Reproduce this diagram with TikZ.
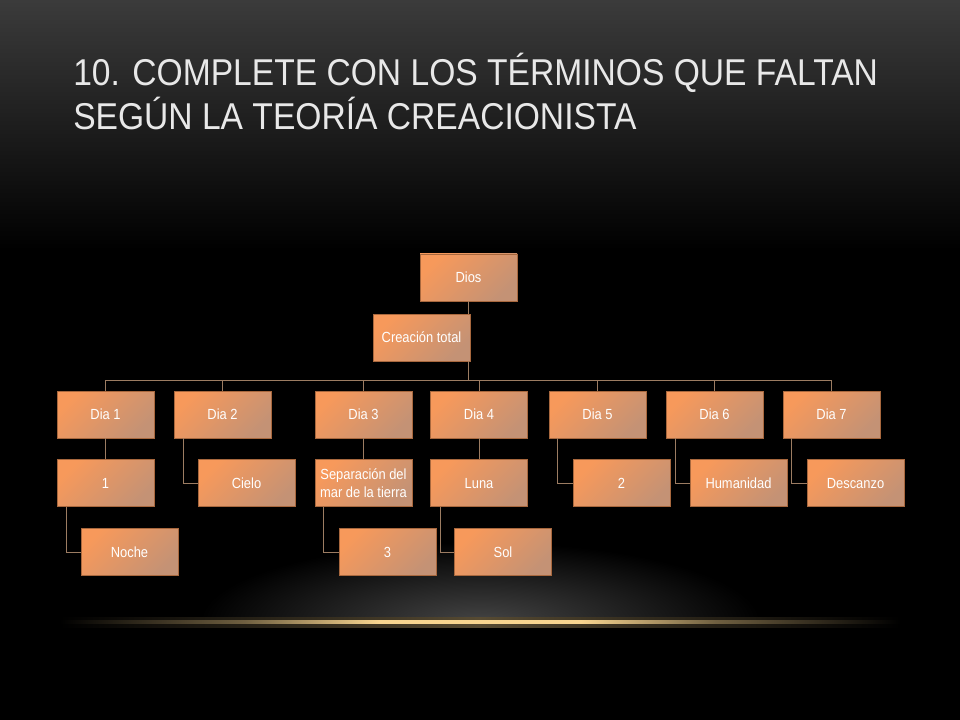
\documentclass[tikz,border=0pt]{standalone}
\usepackage{fontspec}
\setmainfont{Liberation Sans}
\newfontfamily\titlefont[FakeStretch=0.9]{Liberation Sans}
\newfontfamily\boxfont[FakeStretch=0.88]{Liberation Sans}
\usepackage{xcolor}
\usetikzlibrary{positioning}
\definecolor{boxA}{HTML}{F7995B}
\definecolor{boxB}{HTML}{C49275}
\definecolor{boxline}{HTML}{A8683E}
\definecolor{linkc}{HTML}{9C7C62}
\definecolor{titlec}{HTML}{E8E8E8}
\definecolor{bgtop}{HTML}{3B3B3B}
\definecolor{gold}{HTML}{F8D590}
\definecolor{glowc}{HTML}{444444}
\pgfdeclareradialshading{glow}{\pgfpoint{0bp}{0bp}}{color(0bp)=(glowc); color(25bp)=(black); color(50bp)=(black)}
\pgfdeclarehorizontalshading{goldline}{100bp}{color(0bp)=(black); color(25bp)=(black); color(36bp)=(gold!45!black);
  color(44bp)=(gold); color(56bp)=(gold); color(64bp)=(gold!45!black); color(75bp)=(black); color(100bp)=(black)}
\pgfdeclarehorizontalshading{goldhalo}{100bp}{color(0bp)=(black); color(25bp)=(black); color(40bp)=(gold!20!black);
  color(50bp)=(gold!35!black); color(60bp)=(gold!20!black); color(75bp)=(black); color(100bp)=(black)}

\begin{document}
\begin{tikzpicture} [x=0.75pt,y=-0.75pt,node distance=15.75pt]
  \tikzstyle{box}=[rectangle,draw=boxline,line width=0.6pt,top color=boxA,bottom color=boxB,shading angle=45,
                   text=white,font=\boxfont\fontsize{11}{13}\selectfont,align=center,
                   minimum width=72.75pt,minimum height=35.25pt,inner sep=1pt]
  \tikzstyle{link}=[draw=linkc,line width=0.75pt]
  \tikzstyle{title}=[text=titlec,font=\titlefont\fontsize{28}{33}\selectfont,inner sep=0pt,anchor=base west]

  % background
  \useasboundingbox (0,0) rectangle (960,720);
  \fill[black] (0,0) rectangle (960,720);
  \shade[top color=bgtop,bottom color=black] (0,0) rectangle (960,250);
  \begin{scope}
    \clip (0,0) rectangle (960,622);
    \shade[shading=glow] (480,622) ellipse [x radius=280, y radius=80];
  \end{scope}
  \shade[shading=goldhalo] (60,617) rectangle (900,627);
  \shade[shading=goldline] (60,620.5) rectangle (900,623.5);

  % title
  \node[title] (t1) at (73,86) {10. COMPLETE CON LOS TÉRMINOS QUE FALTAN};
  \node[title] (t2) at (73,130) {SEGÚN LA TEORÍA CREACIONISTA};

  % tree
  \node[box]           (dios) at (468.5,277.5) {Dios};
  \node[box]           (crea) at (421.5,337.5) {Creación total};
  \node[box]           (d1)   at (105.5,414.5) {Dia 1};
  \node[box]           (d2)   at (222.5,414.5) {Dia 2};
  \node[box]           (d3)   at (363.5,414.5) {Dia 3};
  \node[box]           (d4)   at (479,414.5)   {Dia 4};
  \node[box]           (d5)   at (597.5,414.5) {Dia 5};
  \node[box]           (d6)   at (714.5,414.5) {Dia 6};
  \node[box]           (d7)   at (831.5,414.5) {Dia 7};
  \node[box]           (uno)   [below=of d1] {1};
  \node[box]           (cielo) [below=of d2, xshift=18pt] {Cielo};
  \node[box]           (sep)   [below=of d3] {Separación del\\mar de la tierra};
  \node[box]           (luna)  [below=of d4] {Luna};
  \node[box]           (dos)   [below=of d5, xshift=18pt] {2};
  \node[box]           (hum)   [below=of d6, xshift=18pt] {Humanidad};
  \node[box]           (desc)  [below=of d7, xshift=18pt] {Descanzo};
  \node[box]           (noche) [below=of uno, xshift=18pt] {Noche};
  \node[box]           (tres)  [below=of sep, xshift=18pt] {3};
  \node[box]           (sol)   [below=of luna, xshift=18pt] {Sol};
  \coordinate (bus) at (468.5,380);

  \draw[link] (dios.south) -- (dios.south |- crea.north);
  \draw[link] (dios.south |- crea.south) -- (bus);
  \foreach \i in {1,...,7}
    \draw[link] (d\i.north) |- (bus);
  \draw[link] (d1.south) -- (uno.north);
  \draw[link] (d3.south) -- (sep.north);
  \draw[link] (d4.south) -- (luna.north);
  \draw[link] ([xshift=7.5pt]d2.south west) |- (cielo.west);
  \draw[link] ([xshift=7pt]d5.south west) |- (dos.west);
  \draw[link] ([xshift=7.5pt]d6.south west) |- (hum.west);
  \draw[link] ([xshift=7pt]d7.south west) |- (desc.west);
  \draw[link] ([xshift=7.5pt]uno.south west) |- (noche.west);
  \draw[link] ([xshift=7pt]sep.south west) |- (tres.west);
  \draw[link] ([xshift=7.5pt]luna.south west) |- (sol.west);
\end{tikzpicture}
\end{document}
